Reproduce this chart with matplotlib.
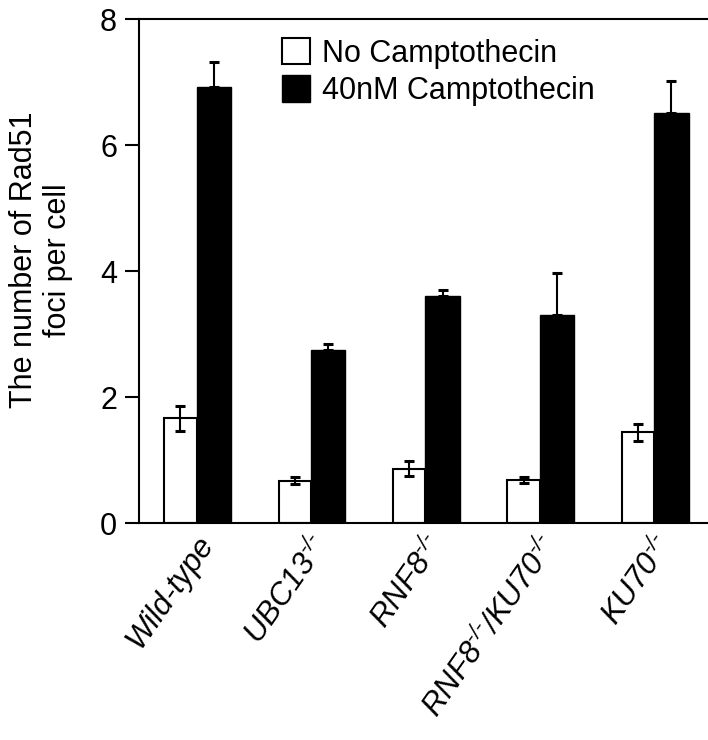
import numpy as np
import matplotlib
matplotlib.use("Agg")
import matplotlib.pyplot as plt
import matplotlib.transforms as mtransforms
from matplotlib.patches import Patch

plt.rcParams['font.family'] = ['Liberation Sans', 'DejaVu Sans']
plt.rcParams['mathtext.fontset'] = 'custom'
plt.rcParams['mathtext.rm'] = 'Liberation Sans:italic'
plt.rcParams['mathtext.it'] = 'Liberation Sans:italic'

# data
groups = ["Wild-type", r"UBC13$^{\text{-/-}}$", r"RNF8$^{\text{-/-}}$",
          r"RNF8$^{\text{-/-}}$/KU70$^{\text{-/-}}$", r"KU70$^{\text{-/-}}$"]
no_cpt = [1.67, 0.68, 0.87, 0.69, 1.45]
no_cpt_err = [0.20, 0.05, 0.12, 0.045, 0.135]
cpt_40nm = [6.92, 2.75, 3.60, 3.31, 6.51]
cpt_40nm_err = [0.40, 0.10, 0.10, 0.66, 0.50]
series_labels = ["No Camptothecin", "40nM Camptothecin"]

x = np.arange(len(groups))
w_white = 0.283
w_black = 0.302

fig = plt.figure(figsize=(7.08, 7.4), dpi=100)
ax = fig.add_axes([0.1968, 0.2926, 1.0047 - 0.1968, 0.9743 - 0.2926])

ax.bar(x - w_white / 2, no_cpt, w_white, color="white", edgecolor="black",
       linewidth=1.5, zorder=2)
ax.bar(x + w_black / 2, cpt_40nm, w_black, color="black", edgecolor="black",
       linewidth=1.0, zorder=2)
ax.errorbar(x - w_white / 2, no_cpt, yerr=no_cpt_err, fmt="none",
            ecolor="black", elinewidth=1.5, capsize=3.8, capthick=2.2, zorder=3)
ax.errorbar(x + w_black / 2, cpt_40nm,
            yerr=[np.zeros(len(x)), cpt_40nm_err], fmt="none",
            ecolor="black", elinewidth=1.5, capsize=3.5, capthick=2.2, zorder=3)

ax.set_xlim(-0.5, 4.5)
ax.set_ylim(0, 8)
ax.set_yticks([0, 2, 4, 6, 8])
ax.tick_params(axis="y", direction="out", length=10, width=1.5,
               labelsize=22, pad=6)
ax.tick_params(axis="x", length=0, pad=5)
ax.set_xticks(x)
offset = mtransforms.ScaledTranslation(-1 / 100, 0, fig.dpi_scale_trans)
ax.set_xticklabels(groups, rotation=55, ha="right", va="top",
                   rotation_mode="anchor", fontsize=22.5, fontstyle="italic")
for lab in ax.get_xticklabels():
    lab.set_transform(lab.get_transform() + offset)
for sp in ax.spines.values():
    sp.set_linewidth(1.5)

fig.text(0.058, 0.649, "The number of Rad51\nfoci per cell", rotation=90,
         ha="center", va="center", multialignment="center", fontsize=22,
         linespacing=1.15)

handles = [Patch(facecolor="white", edgecolor="black", linewidth=1.5),
           Patch(facecolor="black", edgecolor="black")]
ax.legend(handles, series_labels, loc="upper left",
          bbox_to_anchor=(282 / 708, 1 - 38 / 740),
          bbox_transform=fig.transFigure, frameon=False, fontsize=22,
          handlelength=0.9, handleheight=0.95, handletextpad=0.42,
          labelspacing=0.22, borderpad=0, borderaxespad=0)

fig.savefig("out.png", dpi=100)
